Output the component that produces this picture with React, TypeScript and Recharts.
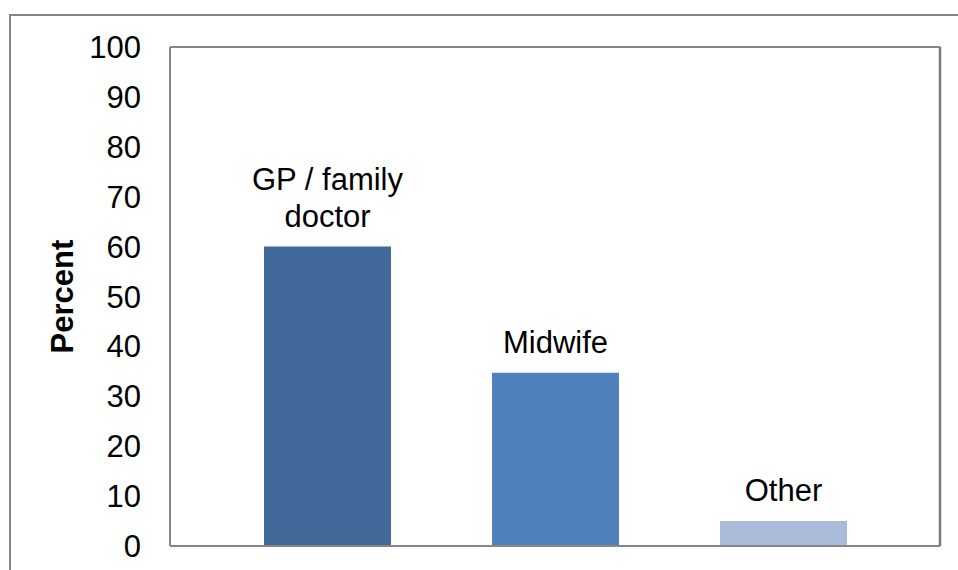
import { Bar, BarChart, Cell, Label, LabelList, XAxis, YAxis } from "recharts";

const CATEGORIES = ["GP / family doctor", "Midwife", "Other"];
const LABEL_LINES = [["GP / family", "doctor"], ["Midwife"], ["Other"]];
const PERCENT = [60, 34.7, 5];
const Y_TICKS = [0, 10, 20, 30, 40, 50, 60, 70, 80, 90, 100];
const COLORS = ["#416a9b", "#4f81bd", "#aabbd9"];

const FONT = "'Liberation Sans', Arial, sans-serif";
const AXIS_GRAY = "#868686";

const data = CATEGORIES.map((name, i) => ({ name, value: PERCENT[i] }));


function BarTopLabel(props: any) {
  const { x, y, width, index } = props;
  const lines = LABEL_LINES[index] || [];
  const cx = x + width / 2;
  return (
    <g>
      {lines.map((line, i) => (
        <text
          key={i}
          x={cx}
          y={y - 20 - (lines.length - 1 - i) * 37}
          textAnchor="middle"
          fontFamily={FONT}
          fontSize={31}
          fill="#000"
        >
          {line}
        </text>
      ))}
    </g>
  );
}


export default function App() {
  return (
    <div style={{ position: "fixed", left: 0, top: 0, width: 958, height: 570, overflow: "hidden", background: "#fff" }}>
      <div
        style={{
          position: "absolute",
          left: 9,
          top: 14,
          width: 1000,
          height: 600,
          border: `2px solid ${AXIS_GRAY}`,
        }}
      />
      <div style={{ position: "absolute", left: 0, top: 0 }}>
        <BarChart width={958} height={570} data={data} margin={{ top: 46, right: 17, bottom: 23, left: 0 }}>
          <XAxis
            dataKey="name"
            tick={false}
            tickLine={false}
            height={1}
            padding={{ left: 43, right: 43 }}
            axisLine={{ stroke: AXIS_GRAY, strokeWidth: 2 }}
          />
          <XAxis
            xAxisId="top"
            orientation="top"
            dataKey="name"
            tick={false}
            tickLine={false}
            height={1}
            axisLine={{ stroke: AXIS_GRAY, strokeWidth: 2 }}
          />
          <YAxis
            type="number"
            domain={[0, 100]}
            ticks={Y_TICKS}
            width={170}
            tickLine={false}
            tickSize={0}
            tickMargin={29}
            axisLine={{ stroke: AXIS_GRAY, strokeWidth: 2 }}
            tick={{ fontSize: 31, fontFamily: FONT, fill: "#000" }}
          >
            <Label
              content={({ viewBox }: any) => {
                const cy = viewBox.y + viewBox.height / 2;
                return (
                  <text
                    x={73}
                    y={cy}
                    transform={`rotate(-90 73 ${cy})`}
                    textAnchor="middle"
                    fontFamily={FONT}
                    fontSize={31}
                    fontWeight="bold"
                    fill="#000"
                  >
                    Percent
                  </text>
                );
              }}
            />
          </YAxis>
          <YAxis
            yAxisId="right"
            orientation="right"
            type="number"
            domain={[0, 100]}
            width={1}
            tick={false}
            tickLine={false}
            axisLine={{ stroke: "#7a7a7a", strokeWidth: 2.5 }}
          />
          <Bar dataKey="value" barSize={127} isAnimationActive={false}>
            {data.map((_, i) => (
              <Cell key={i} fill={COLORS[i % COLORS.length]} />
            ))}
            <LabelList dataKey="value" content={<BarTopLabel />} />
          </Bar>
        </BarChart>
      </div>
    </div>
  );
}
